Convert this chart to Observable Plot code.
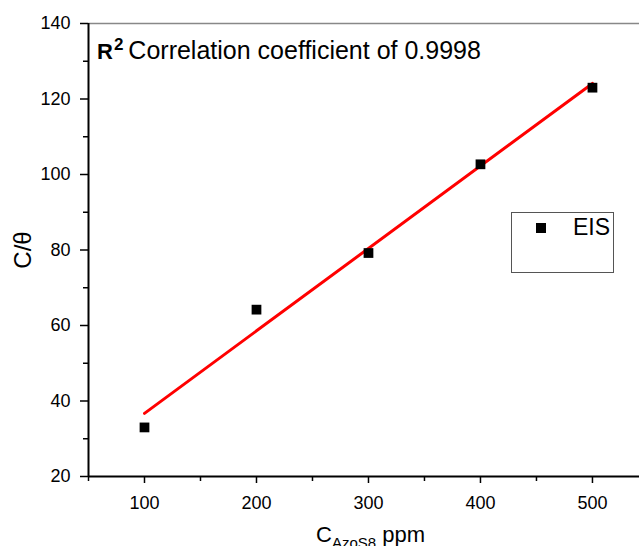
<!DOCTYPE html>
<html><head><meta charset="utf-8">
<script src="https://cdn.jsdelivr.net/npm/d3@7"></script>
<script src="https://cdn.jsdelivr.net/npm/@observablehq/plot@0.6"></script>
<style>
html,body{margin:0;padding:0;background:#fff;overflow:hidden;}
#wrap{position:relative;width:639px;height:546px;font-family:"Liberation Sans",Arial,sans-serif;}
#anno{position:absolute;left:97px;top:36px;font-size:25px;line-height:28px;color:#000;white-space:nowrap;}
#anno b{font-size:22px;}
#anno sup{font-size:17px;font-weight:bold;vertical-align:0;position:relative;top:-9px;margin-right:5px;margin-left:1px;}
#legend{position:absolute;left:511px;top:212px;width:103px;height:61px;border:1px solid #555;box-sizing:border-box;}
#legend .sw{position:absolute;left:24px;top:10px;width:10px;height:10px;background:#000;}
#legend .lb{position:absolute;left:61px;top:1px;font-size:23px;line-height:26px;}
#xlab{position:absolute;left:0;width:741px;top:522px;text-align:center;font-size:22px;line-height:26px;white-space:nowrap;}
#xlab sub{font-size:15px;vertical-align:0;position:relative;top:6px;}
#ylab{position:absolute;left:23px;top:250px;transform:translate(-50%,-50%) rotate(-90deg);font-size:24px;white-space:nowrap;}
</style></head>
<body><div id="wrap"></div>
<script>
const concentration = [100, 200, 300, 400, 500];
const cTheta = [33.0, 64.2, 79.2, 102.7, 123.0];
const seriesName = "EIS";
const xMajor = [100, 200, 300, 400, 500];
const xMinor = [50, 150, 250, 350, 450];
const yMajor = [20, 40, 60, 80, 100, 120, 140];
const yMinor = [30, 50, 70, 90, 110, 130];
const r2Text = "Correlation coefficient of 0.9998";

const data = concentration.map((c, i) => ({c, v: cTheta[i]}));

const plot = Plot.plot({
  width: 639, height: 546,
  marginLeft: 88, marginTop: 23, marginBottom: 70, marginRight: 0,
  style: {fontFamily: "Liberation Sans, Arial, sans-serif", fontSize: "18px", color: "#000", background: "#fff"},
  x: {domain: [50, 542]},
  y: {domain: [20, 140]},
  marks: [
    Plot.ruleY([140], {stroke: "#888", strokeWidth: 1.5}),
    Plot.axisX({ticks: xMajor, tickSize: 7, tickPadding: 13, label: null, strokeWidth: 1.5, fontSize: 18}),
    Plot.axisX({ticks: xMinor, tickSize: 5, text: null, label: null, strokeWidth: 1.5}),
    Plot.axisY({ticks: yMajor, tickSize: 8, tickPadding: 10, label: null, strokeWidth: 1.5, fontSize: 18}),
    Plot.axisY({ticks: yMinor, tickSize: 5, text: null, label: null, strokeWidth: 1.5}),
    Plot.ruleX([50], {stroke: "#000", strokeWidth: 2}),
    Plot.ruleY([20], {stroke: "#000", strokeWidth: 2}),
    Plot.linearRegressionY(data, {x: "c", y: "v", stroke: "#f00", strokeWidth: 3, ci: 0}),
    Plot.dot(data, {x: "c", y: "v", symbol: "square", fill: "#000", r: 5.5})
  ]
});
const wrap = document.getElementById("wrap");
wrap.appendChild(plot);
wrap.insertAdjacentHTML("beforeend",
  `<div id="anno"><b>R</b><sup>2</sup>${r2Text}</div>
   <div id="legend"><div class="sw"></div><div class="lb">${seriesName}</div></div>
   <div id="xlab">C<sub>AzoS8</sub> ppm</div>
   <div id="ylab">C/θ</div>`);
</script>
</body></html>
